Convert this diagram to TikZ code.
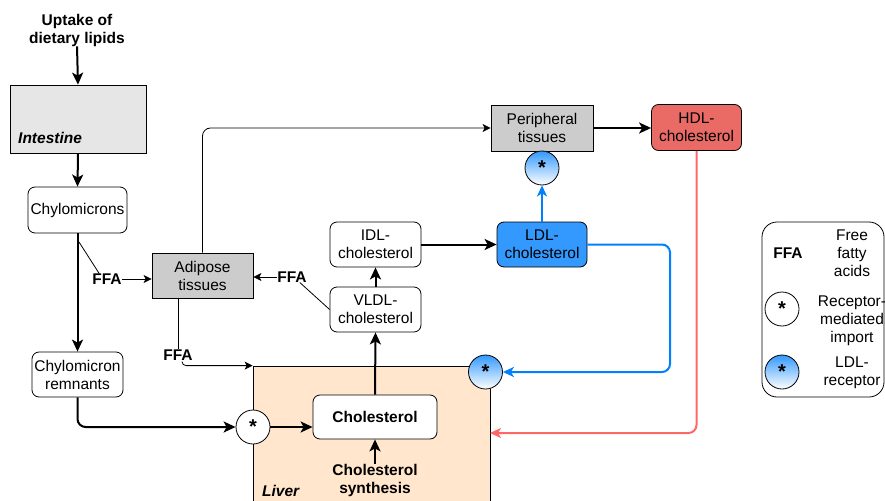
\documentclass[tikz,border=0pt]{standalone}
\usepackage{fontspec}
\setmainfont{Liberation Sans}
\usetikzlibrary{arrows.meta}
\definecolor{gutgray}{HTML}{E6E6E6}
\definecolor{tissuegray}{HTML}{CCCCCC}
\definecolor{liverfill}{HTML}{FFE6CC}
\definecolor{ldlblue}{HTML}{3399FF}
\definecolor{hdlred}{HTML}{EA6B66}
\definecolor{bloodblue}{HTML}{007FFF}
\definecolor{bloodred}{HTML}{FF6666}
\newcommand{\basefont}{\fontsize{15.5}{18}\selectfont}
\begin{document}
\begin{tikzpicture}[x=1pt,y=-1pt,font=\basefont,
  box/.style={draw, line width=0.8pt, inner sep=0pt, align=center},
  rbox/.style={box, rounded corners=7pt, fill=white},
  rcpt/.style={circle, draw, line width=0.8pt, fill=white, minimum size=34pt, inner sep=0pt, font=\fontsize{20}{20}\selectfont\bfseries},
  ldlr/.style={rcpt, top color=ldlblue, bottom color=white},
  lbl/.style={inner sep=0pt, align=center, font=\basefont\bfseries},
  txt/.style={inner sep=0pt, align=center},
  heavy/.style={line width=2pt, -{Stealth[length=12pt,width=11pt,inset=3pt]}},
  light/.style={line width=0.8pt, -{Stealth[length=8pt,width=8pt,inset=2pt]}},
  plain/.style={line width=0.8pt}]
\useasboundingbox (0,0) rectangle (885,500);

% liver compartment
\node[box, fill=liverfill, minimum width=237pt, minimum height=144pt] (liver) at (371.5,438) {};
\node[lbl, anchor=west, font=\basefont\bfseries\itshape] (liverlbl) at (262,491) {Liver};

% intestine and chylomicron branch
\node[lbl] (uptake) at (77,30) {Uptake of\\dietary lipids};
\node[box, fill=gutgray, minimum width=136pt, minimum height=68pt] (gut) at (78,119) {};
\node[lbl, anchor=west, font=\basefont\bfseries\itshape] (gutlbl) at (18,138) {Intestine};
\node[rbox, minimum width=99pt, minimum height=46pt] (chylo) at (77.5,210) {Chylomicrons};
\node[rbox, minimum width=91pt, minimum height=45pt] (remn) at (77.5,374.5) {Chylomicron\\remnants};

% tissues
\node[box, fill=tissuegray, minimum width=101pt, minimum height=45pt] (adipose) at (202.5,275.5) {Adipose\\tissues};
\node[box, fill=tissuegray, minimum width=102pt, minimum height=46pt] (periph) at (542,128) {Peripheral\\tissues};
\node[box, rounded corners=7pt, fill=hdlred, minimum width=90pt, minimum height=46pt] (hdl) at (696.5,127.5) {HDL-\\cholesterol};

% lipoproteins
\node[rbox, minimum width=91pt, minimum height=45pt] (idl) at (375.5,244.5) {IDL-\\cholesterol};
\node[rbox, minimum width=91pt, minimum height=45pt] (vldl) at (375.5,309.5) {VLDL-\\cholesterol};
\node[box, rounded corners=7pt, fill=ldlblue, minimum width=90pt, minimum height=45pt] (ldl) at (542,244.5) {LDL-\\cholesterol};
\node[rbox, minimum width=124pt, minimum height=44pt, font=\basefont\bfseries] (chol) at (375,417) {Cholesterol};
\node[lbl] (synth) at (375,480) {Cholesterol\\synthesis};

% receptors
\node[rcpt] (rcirc) at (253,427) {*};
\node[ldlr] (lcirc) at (485.5,372) {*};
\node[ldlr] (pcirc) at (542,168) {*};

% free fatty acid labels
\node[lbl] (ffa1) at (107,279) {FFA};
\node[lbl] (ffa2) at (292,277) {FFA};
\node[lbl] (ffa3) at (178,355) {FFA};

% main pathway
\draw[heavy] (uptake.south) -- (gut.north);
\draw[heavy] (gut.south) -- (chylo.north);
\draw[heavy] (chylo.south) -- (remn.north);
\draw[heavy, rounded corners=8pt] (remn.south) |- (rcirc.west);
\draw[heavy] (rcirc.east) -- (rcirc.east -| chol.west);
\draw[heavy] (synth.north) -- (chol.south);
\draw[heavy] (chol.north) -- (vldl.south);
\draw[heavy] (vldl.north) -- (idl.south);
\draw[heavy] (idl.east) -- (idl.east -| ldl.west);
\draw[heavy] (periph.east) -- (periph.east -| hdl.west);

% fatty acid release
\coordinate (split) at (79,242);
\draw[plain] (split) -- ([xshift=7pt]ffa1.north west);
\draw[light] (ffa1.east) -- (ffa1.east -| adipose.west);
\draw[plain] ([xshift=-7pt]ffa2.south east) -- (vldl.west);
\draw[light] (ffa2.west) -- (ffa2.west -| adipose.east);
\draw[plain] (adipose.south -| ffa3.north) -- (ffa3.north);
\draw[light, rounded corners=4pt] ([xshift=4pt,yshift=-1pt]ffa3.south) |- (liver.north west);
\draw[light, rounded corners=8pt] (adipose.north) |- (periph.west);

% lipoprotein uptake by receptors
\coordinate (bluebend) at (670,372);
\coordinate (redin) at (490,433);
\draw[line width=2pt, bloodblue, -{Stealth[length=11pt,width=10pt,inset=3pt]}] (ldl.north) -- (pcirc.south);
\draw[line width=2pt, bloodblue, rounded corners=8pt, -{Stealth[length=11pt,width=10pt,inset=3pt]}] (ldl.east) -| (bluebend) -- (lcirc.east);
\draw[line width=2pt, bloodred, rounded corners=8pt, -{Stealth[length=11pt,width=10pt,inset=3pt]}] (hdl.south) |- (redin);

% legend
\node[draw, line width=0.8pt, rounded corners=15pt, minimum width=122pt, minimum height=175pt, inner sep=0pt] (legend) at (823,309.5) {};
\node[lbl] (legffa) at (788,253) {FFA};
\node[txt] (legffatxt) at (852,253.5) {Free\\fatty\\acids};
\node[rcpt] (legrcpt) at (782,309) {*};
\node[txt] (legrcpttxt) at (852,321) {Receptor-\\mediated\\import};
\node[ldlr] (legldlr) at (782,372) {*};
\node[txt] (legldlrtxt) at (852,372.5) {LDL-\\receptor};
\end{tikzpicture}
\end{document}
